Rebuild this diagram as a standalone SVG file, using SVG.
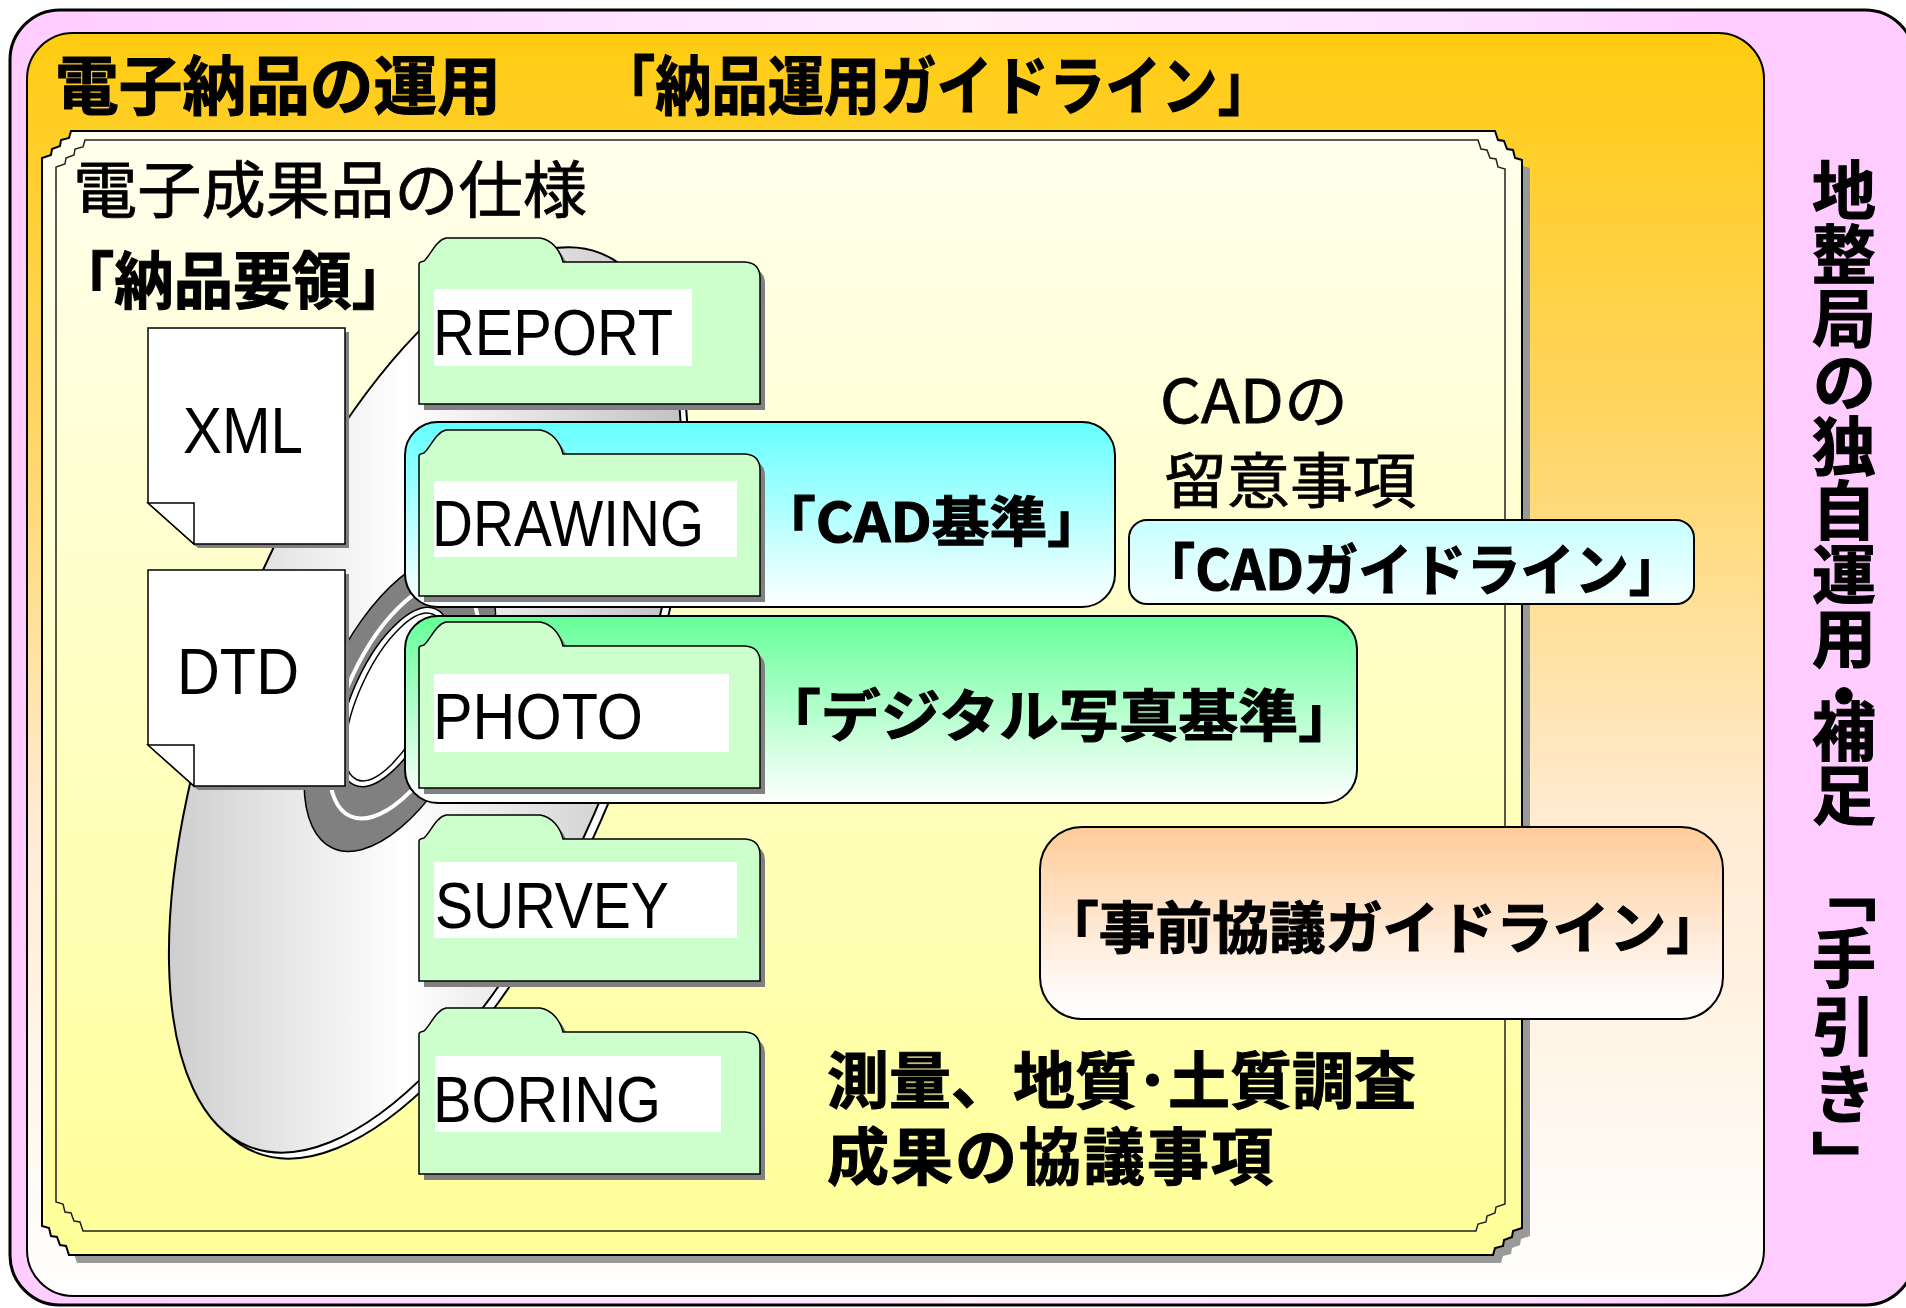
<svg xmlns="http://www.w3.org/2000/svg" width="1906" height="1308" viewBox="0 0 1906 1308">
<defs>
<style>
.jp{font-family:"Noto Sans CJK JP","Noto Sans CJK SC",sans-serif;fill:#000}
.b{font-weight:700;stroke:#000;stroke-width:1.1}
.m{stroke:#000;stroke-width:0.8}
.lat{font-family:"Liberation Sans",Arial,sans-serif;font-size:65px;fill:#000}
.ln{stroke:#000;stroke-width:2}
.shadow{fill:#808080}
.folder{fill:#CCFFCC;stroke:#000;stroke-width:1.5}
.label{fill:#FFFFFF}
.doc{fill:#FFFFFF;stroke:#000;stroke-width:1.5}
</style>
<linearGradient id="pinkG" gradientUnits="userSpaceOnUse" x1="10" y1="0" x2="1915" y2="0">
<stop offset="0" stop-color="#FFCCFF"/><stop offset="0.5" stop-color="#FFEEFF"/><stop offset="0.8" stop-color="#FFDDFF"/><stop offset="0.9" stop-color="#FFCCFF"/><stop offset="1" stop-color="#FFCCFF"/>
</linearGradient>
<linearGradient id="orangeG" gradientUnits="userSpaceOnUse" x1="0" y1="33" x2="0" y2="1296">
<stop offset="0" stop-color="#FFCC11"/><stop offset="0.3" stop-color="#FFD560"/><stop offset="0.62" stop-color="#FFEBD2"/><stop offset="1" stop-color="#FFFFFF"/>
</linearGradient>
<linearGradient id="panelG" gradientUnits="userSpaceOnUse" x1="0" y1="131" x2="0" y2="1255">
<stop offset="0" stop-color="#FFFFEE"/><stop offset="1" stop-color="#FFFF99"/>
</linearGradient>
<linearGradient id="discG" gradientUnits="userSpaceOnUse" x1="160" y1="0" x2="700" y2="0" gradientTransform="rotate(-21.5) translate(-425,-700)">
<stop offset="0" stop-color="#CCCCCC"/><stop offset="0.45" stop-color="#FFFFFF"/><stop offset="1" stop-color="#BEBEBE"/>
</linearGradient>
<linearGradient id="cyanG" x1="0" y1="0" x2="0" y2="1">
<stop offset="0" stop-color="#66FFFF"/><stop offset="1" stop-color="#FFFFFF"/>
</linearGradient>
<linearGradient id="greenG" x1="0" y1="0" x2="0" y2="1">
<stop offset="0" stop-color="#66FF99"/><stop offset="1" stop-color="#FFFFFF"/>
</linearGradient>
<linearGradient id="paleCyanG" x1="0" y1="0" x2="0" y2="1">
<stop offset="0" stop-color="#C8FFFF"/><stop offset="1" stop-color="#F5FFFF"/>
</linearGradient>
<linearGradient id="peachG" x1="0" y1="0" x2="0" y2="1">
<stop offset="0" stop-color="#FFCC99"/><stop offset="0.85" stop-color="#FFFAF7"/><stop offset="1" stop-color="#FFFFFF"/>
</linearGradient>
<path id="folder" d="M0,166 V26 Q0,24 5,23 C11,18 17,2 27,0 H121 C133,2 141,12 144,24 H326 Q341,25 341,40 V166 Z"/>
<path id="doc" d="M0,0 H197 V216 H46 L0,175 Z"/>
<path id="panelOuter" d="M71,131 H1495 l3,9 l6,1 l3,8 l6,1 l2,8 l7,2 V1228 l-9,3 l-1,6 l-8,3 l-1,6 l-8,2 l-2,7 H69 l-3,-9 l-6,-1 l-3,-8 l-6,-1 l-2,-8 l-7,-2 V158 l9,-3 l1,-6 l8,-3 l1,-6 l8,-2 l2,-7 Z"/>
</defs>

<rect width="1906" height="1308" fill="#FFFFFF"/>

<!-- outer frame: regional bureau supplement -->
<g id="frame-bureau">
<rect x="10" y="10" width="1905" height="1295" rx="50" fill="url(#pinkG)" stroke="#000" stroke-width="3"/>
<text class="jp b" font-size="64" writing-mode="vertical-rl"><tspan x="1844" y="158">地整局の独自運用</tspan><tspan x="1844" y="664">・</tspan><tspan x="1844" y="699">補足</tspan><tspan x="1844" y="858" letter-spacing="4">「手引き」</tspan></text>
</g>

<!-- delivery operation frame -->
<g id="frame-operation">
<rect x="27" y="33" width="1737" height="1263" rx="46" fill="url(#orangeG)" class="ln"/>
<text class="jp b" font-size="64" x="55" y="109" textLength="446" lengthAdjust="spacingAndGlyphs">電子納品の運用</text>
<text class="jp b" font-size="64" x="599" y="109" textLength="675" lengthAdjust="spacingAndGlyphs">「納品運用ガイドライン」</text>
</g>

<!-- specification panel -->
<g id="panel-spec">
<use href="#panelOuter" transform="translate(8,8)" fill="#999999"/>
<use href="#panelOuter" fill="url(#panelG)" stroke="#000" stroke-width="2"/>
<path d="M85,140 H1478 l3,9 l6,1 l3,8 l6,1 l2,8 l7,2 V1204 l-9,3 l-1,6 l-8,3 l-1,6 l-8,2 l-2,7 H83 l-3,-9 l-6,-1 l-3,-8 l-6,-1 l-2,-8 l-7,-2 V167 l9,-3 l1,-6 l8,-3 l1,-6 l8,-2 l2,-7 Z" fill="url(#panelG)" stroke="#222" stroke-width="1.5"/>
<text class="jp m" font-size="62" x="73" y="213" textLength="514" lengthAdjust="spacingAndGlyphs">電子成果品の仕様</text>
<text class="jp b" font-size="62" x="55" y="304" textLength="356" lengthAdjust="spacingAndGlyphs">「納品要領」</text>
</g>

<!-- disc -->
<g id="disc">
<ellipse rx="200" ry="480" transform="translate(432,706) rotate(21.5)" fill="#FFFFFF" stroke="#000" stroke-width="2"/>
<ellipse rx="200" ry="480" transform="translate(425,700) rotate(21.5)" fill="url(#discG)" stroke="#000" stroke-width="2"/>
<ellipse rx="75" ry="160" transform="translate(400,703) rotate(25)" fill="#808080" stroke="#000" stroke-width="1.5"/>
<ellipse rx="57" ry="128" transform="translate(404,700) rotate(25)" fill="none" stroke="#FFFFFF" stroke-width="4"/>
<ellipse rx="41" ry="97" transform="translate(395,697) rotate(25)" fill="#FFFFFF" stroke="#000" stroke-width="1.5"/>
<ellipse rx="35" ry="91" transform="translate(395,697) rotate(25)" fill="#FFFFFF" stroke="#000" stroke-width="1.5"/>
</g>

<!-- schema documents -->
<g id="doc-xml">
<use href="#doc" x="152" y="332" class="shadow"/>
<use href="#doc" x="148" y="328" class="doc"/>
<path d="M148,503 H194 V544 Z" class="doc"/>
<text class="lat" x="183" y="453" textLength="120" lengthAdjust="spacingAndGlyphs">XML</text>
</g>
<g id="doc-dtd">
<use href="#doc" x="152" y="574" class="shadow"/>
<use href="#doc" x="148" y="570" class="doc"/>
<path d="M148,745 H194 V786 Z" class="doc"/>
<text class="lat" x="177" y="694" textLength="122" lengthAdjust="spacingAndGlyphs">DTD</text>
</g>

<!-- standards boxes -->
<g id="box-cad">
<rect x="405" y="422" width="710" height="185" rx="33" fill="url(#cyanG)" class="ln"/>
<text class="jp b" font-size="54" x="758" y="542" textLength="347" lengthAdjust="spacingAndGlyphs">「CAD基準」</text>
</g>
<g id="box-photo">
<rect x="405" y="616" width="952" height="187" rx="33" fill="url(#greenG)" class="ln"/>
<text class="jp b" font-size="56" x="761" y="736" textLength="597" lengthAdjust="spacingAndGlyphs">「デジタル写真基準」</text>
</g>

<!-- folders -->
<g id="folder-report">
<use href="#folder" x="424" y="244" class="shadow"/>
<use href="#folder" x="419" y="238" class="folder"/>
<rect x="434" y="289" width="258" height="77" class="label"/>
<text class="lat" x="433" y="355" textLength="240" lengthAdjust="spacingAndGlyphs">REPORT</text>
</g>
<g id="folder-drawing">
<use href="#folder" x="424" y="436" class="shadow"/>
<use href="#folder" x="419" y="430" class="folder"/>
<rect x="434" y="481" width="303" height="76" class="label"/>
<text class="lat" x="432" y="546" textLength="272" lengthAdjust="spacingAndGlyphs">DRAWING</text>
</g>
<g id="folder-photo">
<use href="#folder" x="424" y="628" class="shadow"/>
<use href="#folder" x="419" y="622" class="folder"/>
<rect x="434" y="674" width="295" height="78" class="label"/>
<text class="lat" x="433" y="739" textLength="210" lengthAdjust="spacingAndGlyphs">PHOTO</text>
</g>
<g id="folder-survey">
<use href="#folder" x="424" y="821" class="shadow"/>
<use href="#folder" x="419" y="815" class="folder"/>
<rect x="434" y="862" width="303" height="76" class="label"/>
<text class="lat" x="435" y="928" textLength="234" lengthAdjust="spacingAndGlyphs">SURVEY</text>
</g>
<g id="folder-boring">
<use href="#folder" x="424" y="1014" class="shadow"/>
<use href="#folder" x="419" y="1008" class="folder"/>
<rect x="435" y="1056" width="286" height="76" class="label"/>
<text class="lat" x="433" y="1122" textLength="228" lengthAdjust="spacingAndGlyphs">BORING</text>
</g>

<!-- CAD notes -->
<g id="note-cad">
<text class="jp m" font-size="60" x="1160" y="423" textLength="188" lengthAdjust="spacingAndGlyphs">CADの</text>
<text class="jp m" font-size="60" x="1164" y="503" textLength="252" lengthAdjust="spacingAndGlyphs">留意事項</text>
</g>
<g id="box-cad-guide">
<rect x="1129" y="520" width="565" height="84" rx="18" fill="url(#paleCyanG)" class="ln"/>
<text class="jp b" font-size="56" x="1141" y="590" textLength="542" lengthAdjust="spacingAndGlyphs">「CADガイドライン」</text>
</g>

<!-- prior consultation -->
<g id="box-consult">
<rect x="1040" y="827" width="683" height="192" rx="42" fill="url(#peachG)" class="ln"/>
<text class="jp b" font-size="56" x="1042" y="948" textLength="681" lengthAdjust="spacingAndGlyphs">「事前協議ガイドライン」</text>
</g>
<g id="note-survey">
<text class="jp b" font-size="62"><tspan x="827" y="1104">測量、地質･土質調査</tspan><tspan x="827" y="1180" letter-spacing="2">成果の協議事項</tspan></text>
</g>
</svg>
